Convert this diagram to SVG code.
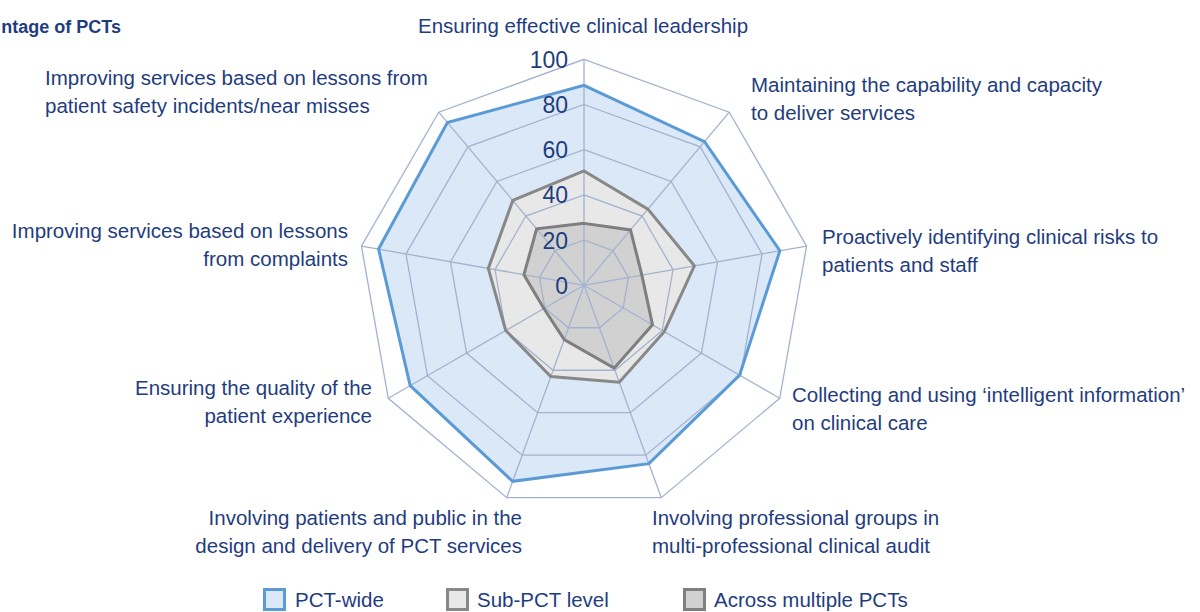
<svg xmlns="http://www.w3.org/2000/svg" width="1200" height="612" viewBox="0 0 1200 612">
<style>
.lbl{font-family:"Liberation Sans",Arial,sans-serif;font-size:20.5px;fill:#1f3d7e}
.num{font-family:"Liberation Sans",Arial,sans-serif;font-size:23px;fill:#1f3d7e;text-anchor:end}
.ttl{font-family:"Liberation Sans",Arial,sans-serif;font-size:18px;font-weight:bold;fill:#1f3d7e}
.grid{fill:none;stroke:#a3b3cf;stroke-width:1.3}
.pw{fill:#dae8f7}
.sp{fill:#e8e8e8}
.am{fill:#d1d1d1}
.pwl{fill:none;stroke:#5b9bd5;stroke-width:3;stroke-linejoin:miter}
.spl{fill:none;stroke:#888888;stroke-width:3}
.aml{fill:none;stroke:#7f7f7f;stroke-width:3}
</style>
<rect width="1200" height="612" fill="#ffffff"/>
<text class="ttl" x="121" y="33" text-anchor="end">ntage of PCTs</text>
<g id="series-fills">
<polygon class="pw" points="584,85.3 704.58,141.61 779.86,250.77 739.59,375.14 648.93,463.69 512.66,481.32 410.2,385.64 378.57,249.09 447.4,122.6"/>
<polygon class="sp" points="584,170.94 647.92,209.13 694.4,265.84 664.24,331.63 619.25,382.14 550.76,376.62 505.71,330.5 488.3,268.43 512.82,200.47"/>
<polygon class="am" points="584,223.38 630.49,229.9 641.87,275.1 652.5,324.85 614.14,368.13 564.21,339.67 543.88,308.47 523.91,274.71 536.64,228.86"/>
</g>
<g id="grid">
<polygon class="grid" points="584,59.3 729.27,112.18 806.56,246.07 779.72,398.3 661.29,497.67 506.71,497.67 388.28,398.3 361.44,246.07 438.73,112.18"/>
<polygon class="grid" points="584,104.5 700.22,146.81 762.05,253.91 740.57,375.7 645.83,455.2 522.17,455.2 427.43,375.7 405.95,253.91 467.78,146.81"/>
<polygon class="grid" points="584,149.7 671.16,181.43 717.54,261.76 701.43,353.1 630.38,412.72 537.62,412.72 466.57,353.1 450.46,261.76 496.84,181.43"/>
<polygon class="grid" points="584,194.9 642.11,216.05 673.03,269.61 662.29,330.5 614.92,370.25 553.08,370.25 505.71,330.5 494.97,269.61 525.89,216.05"/>
<polygon class="grid" points="584,240.1 613.05,250.68 628.51,277.45 623.14,307.9 599.46,327.77 568.54,327.77 544.86,307.9 539.49,277.45 554.95,250.68"/>
<path class="grid" d="M584,285.3L584,59.3M584,285.3L729.27,112.18M584,285.3L806.56,246.07M584,285.3L779.72,398.3M584,285.3L661.29,497.67M584,285.3L506.71,497.67M584,285.3L388.28,398.3M584,285.3L361.44,246.07M584,285.3L438.73,112.18"/>
</g>
<g id="series-lines">
<polygon class="pwl" points="584,85.3 704.58,141.61 779.86,250.77 739.59,375.14 648.93,463.69 512.66,481.32 410.2,385.64 378.57,249.09 447.4,122.6"/>
<polygon class="spl" points="584,170.94 647.92,209.13 694.4,265.84 664.24,331.63 619.25,382.14 550.76,376.62 505.71,330.5 488.3,268.43 512.82,200.47"/>
<polygon class="aml" points="584,223.38 630.49,229.9 641.87,275.1 652.5,324.85 614.14,368.13 564.21,339.67 543.88,308.47 523.91,274.71 536.64,228.86"/>
</g>
<g id="scale">
<text class="num" x="568" y="68">100</text>
<text class="num" x="568" y="113">80</text>
<text class="num" x="568" y="158">60</text>
<text class="num" x="568" y="203">40</text>
<text class="num" x="568" y="249">20</text>
<text class="num" x="568" y="294">0</text>
</g>
<g id="label-leadership"><text class="lbl" x="583" y="33" text-anchor="middle">Ensuring effective clinical leadership</text></g>
<g id="label-capability"><text class="lbl" x="751" y="92">Maintaining the capability and capacity</text><text class="lbl" x="751" y="120">to deliver services</text></g>
<g id="label-risks"><text class="lbl" x="822" y="244">Proactively identifying clinical risks to</text><text class="lbl" x="822" y="272">patients and staff</text></g>
<g id="label-information"><text class="lbl" x="792" y="402">Collecting and using ‘intelligent information’</text><text class="lbl" x="792" y="430">on clinical care</text></g>
<g id="label-audit"><text class="lbl" x="652" y="525">Involving professional groups in</text><text class="lbl" x="652" y="553">multi-professional clinical audit</text></g>
<g id="label-involving"><text class="lbl" x="522" y="525" text-anchor="end">Involving patients and public in the</text><text class="lbl" x="522" y="553" text-anchor="end">design and delivery of PCT services</text></g>
<g id="label-experience"><text class="lbl" x="372" y="395" text-anchor="end">Ensuring the quality of the</text><text class="lbl" x="372" y="423" text-anchor="end">patient experience</text></g>
<g id="label-complaints"><text class="lbl" x="348" y="238" text-anchor="end">Improving services based on lessons</text><text class="lbl" x="348" y="266" text-anchor="end">from complaints</text></g>
<g id="label-incidents"><text class="lbl" x="45" y="85">Improving services based on lessons from</text><text class="lbl" x="45" y="113">patient safety incidents/near misses</text></g>
<g id="legend">
<rect x="264.5" y="589.5" width="20" height="20" fill="#dae8f7" stroke="#5b9bd5" stroke-width="3"/>
<text class="lbl" x="295" y="607">PCT-wide</text>
<rect x="447.5" y="589.5" width="20" height="20" fill="#e8e8e8" stroke="#888888" stroke-width="3"/>
<text class="lbl" x="477" y="607">Sub-PCT level</text>
<rect x="684.5" y="589.5" width="20" height="20" fill="#d1d1d1" stroke="#7f7f7f" stroke-width="3"/>
<text class="lbl" x="714" y="607">Across multiple PCTs</text>
</g>
</svg>
